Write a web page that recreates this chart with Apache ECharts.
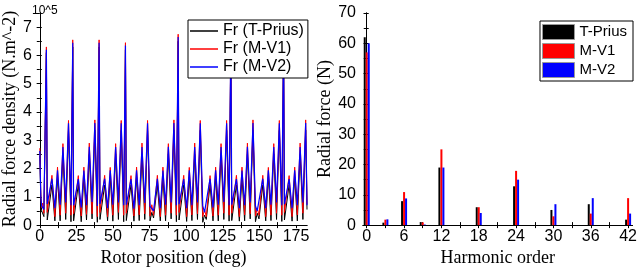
<!DOCTYPE html>
<html>
<head>
<meta charset="utf-8">
<script src="https://cdn.jsdelivr.net/npm/echarts@6/dist/echarts.min.js"></script>
<style>
html,body{margin:0;padding:0;background:#fff;}
#chart{width:640px;height:272px;}
</style>
</head>
<body>
<div id="chart"></div>
<script>
// ---------- Left chart: radial force density vs rotor position ----------
const rotorPositionDeg = [
  0, 0.7, 1.3, 2.0, 2.8, 3.9,
  4.5, 5.1, 8.3, 10.3, 12.1, 13.9, 15.8, 17.7, 19.6, 21.3,
  22.5, 23.1, 26.3, 28.3, 30.1, 31.9, 33.8, 35.7, 37.6, 39.3,
  40.5, 41.1, 44.3, 46.3, 48.1, 49.9, 51.8, 53.7, 55.6, 57.3,
  58.5, 59.1, 62.3, 64.3, 66.1, 67.9, 69.8, 71.7, 73.6, 75.3,
  76.5, 77.7, 80.3, 82.3, 84.1, 85.9, 87.8, 89.7, 91.6, 93.3,
  94.5, 95.1, 98.3, 100.3, 102.1, 103.9, 105.8, 107.7, 109.6, 111.3,
  112.5, 113.7, 116.3, 118.3, 120.1, 121.9, 123.8, 125.7, 127.6, 129.3,
  130.5, 131.1, 134.3, 136.3, 138.1, 139.9, 141.8, 143.7, 145.6, 147.3,
  148.5, 149.7, 152.3, 154.3, 156.1, 157.9, 159.8, 161.7, 163.6, 165.3,
  166.5, 167.1, 170.3, 172.3, 174.1, 175.9, 177.8, 179.7, 181.6,
  182.5
];
// values in 10^5 N/m^2
const frTPrius = [
  2.45, 0.9, 0.5, 0.56, 0.3, 0.25,
  6.1, 0.18, 1.42, 0.15, 1.7, 0.15, 2.52, 0.2, 3.35, 0.12,
  6.3, 0.15, 1.44, 0.12, 1.72, 0.18, 2.5, 0.22, 3.36, 0.1,
  6.3, 0.2, 1.42, 0.15, 1.7, 0.14, 2.52, 0.2, 3.35, 0.12,
  6.2, 0.16, 1.43, 0.14, 1.71, 0.16, 2.5, 0.2, 3.34, 0.15,
  0.45, 0.25, 1.42, 0.15, 1.7, 0.15, 2.52, 0.22, 3.36, 0.12,
  6.5, 0.18, 1.43, 0.13, 1.7, 0.16, 2.5, 0.2, 3.35, 0.1,
  0.35, 0.2, 1.42, 0.15, 1.72, 0.15, 2.52, 0.2, 3.35, 0.14,
  6.3, 0.16, 1.43, 0.14, 1.7, 0.15, 2.5, 0.22, 3.36, 0.12,
  0.42, 0.22, 1.42, 0.15, 1.71, 0.16, 2.52, 0.2, 3.35, 0.13,
  6.3, 0.18, 1.43, 0.14, 1.7, 0.15, 2.5, 0.2, 3.36,
  0.55
];
const frMV1 = [
  2.72, 1.1, 0.62, 0.78, 0.42, 0.38,
  6.3, 0.45, 1.76, 0.3, 2.05, 0.35, 2.88, 0.42, 3.7, 0.35,
  6.55, 0.4, 1.75, 0.32, 2.05, 0.38, 2.9, 0.4, 3.72, 0.3,
  6.55, 0.45, 1.76, 0.3, 2.04, 0.35, 2.88, 0.45, 3.7, 0.35,
  6.45, 0.42, 1.75, 0.32, 2.05, 0.36, 2.9, 0.4, 3.7, 0.32,
  0.72, 0.35, 1.76, 0.3, 2.05, 0.35, 2.88, 0.42, 3.72, 0.35,
  6.75, 0.45, 1.76, 0.3, 2.04, 0.36, 2.9, 0.4, 3.7, 0.3,
  0.55, 0.3, 1.75, 0.32, 2.05, 0.35, 2.88, 0.42, 3.7, 0.35,
  6.6, 0.42, 1.76, 0.3, 2.05, 0.36, 2.9, 0.4, 3.72, 0.32,
  0.6, 0.35, 1.76, 0.3, 2.04, 0.35, 2.88, 0.42, 3.7, 0.35,
  6.6, 0.45, 1.75, 0.3, 2.05, 0.36, 2.9, 0.42, 3.72,
  0.75
];
const frMV2 = [
  2.62, 1.0, 0.68, 0.74, 0.55, 0.6,
  6.2, 0.75, 1.64, 0.6, 1.94, 0.72, 2.76, 0.8, 3.6, 0.7,
  6.45, 0.7, 1.63, 0.62, 1.93, 0.7, 2.77, 0.82, 3.61, 0.68,
  6.45, 0.75, 1.64, 0.6, 1.94, 0.72, 2.76, 0.8, 3.6, 0.7,
  6.35, 0.72, 1.63, 0.58, 1.94, 0.7, 2.76, 0.78, 3.6, 0.66,
  0.62, 0.5, 1.64, 0.6, 1.93, 0.72, 2.77, 0.8, 3.61, 0.7,
  6.65, 0.74, 1.63, 0.6, 1.94, 0.7, 2.76, 0.8, 3.6, 0.68,
  0.45, 0.4, 1.64, 0.62, 1.94, 0.72, 2.76, 0.82, 3.6, 0.7,
  6.5, 0.72, 1.63, 0.6, 1.93, 0.7, 2.77, 0.8, 3.61, 0.68,
  0.5, 0.45, 1.64, 0.6, 1.94, 0.72, 2.76, 0.8, 3.6, 0.7,
  6.5, 0.74, 1.63, 0.6, 1.94, 0.7, 2.76, 0.8, 3.61,
  0.7
];
const rotorTickLabels = [0, 25, 50, 75, 100, 125, 150, 175];
const rotorMinorTicks = [12.5, 37.5, 62.5, 87.5, 112.5, 137.5, 162.5];

// ---------- Right chart: radial force harmonics ----------
const harmonicOrder = [0, 3, 6, 9, 12, 18, 24, 30, 36, 42];
const forceTPrius = [62, 0.8, 7.9, 1.0, 19, 5.9, 12.8, 5.0, 6.9, 1.8];
const forceMV1 = [57, 1.8, 10.9, 0.9, 25, 5.9, 17.9, 2.9, 3.8, 8.9];
const forceMV2 = [60, 1.9, 8.8, 0.2, 19, 4.0, 15, 6.9, 8.9, 3.8];
const harmonicTickLabels = [0, 6, 12, 18, 24, 30, 36, 42];
const harmonicMinorTicks = [3, 9, 15, 21, 27, 33, 39];
const harmonicTopTicks = [0, 3, 6, 9, 12, 15, 18, 21, 24, 27, 30, 33, 36, 39, 42];

const XMAX_L = 182.5;
const XMIN_R = -0.6, XMAX_R = 42.7;

const SANS = '"Liberation Sans", Arial, sans-serif';
const SERIF = '"Liberation Serif", "Times New Roman", serif';
const axisLine = {show: true, lineStyle: {color: '#000', width: 1}};
const tickStyle = {color: '#000', width: 1};

function pairs(xs, ys) { return xs.map((x, i) => [x, ys[i]]); }

const chart = echarts.init(document.getElementById('chart'), null, {renderer: 'canvas'});

const option = {
  animation: false,
  backgroundColor: '#fff',
  title: {
    text: '10^5', left: 27, top: 0,
    textStyle: {fontFamily: SANS, fontSize: 12, fontWeight: 'normal', color: '#000'}
  },
  grid: [
    {left: 37, top: 13, width: 270, height: 218.5},
    {left: 363, top: 13, width: 272, height: 219}
  ],
  xAxis: [
    {gridIndex: 0, type: 'value', min: 0, max: XMAX_L, position: 'bottom',
     axisLine: axisLine,
     axisTick: {show: true, inside: false, length: 3, lineStyle: tickStyle, customValues: rotorTickLabels},
     axisLabel: {color: '#000', fontFamily: SANS, fontSize: 16, margin: 3, customValues: rotorTickLabels},
     splitLine: {show: false},
     name: 'Rotor position (deg)', nameLocation: 'middle', nameGap: 21,
     nameTextStyle: {fontFamily: SERIF, fontSize: 18, color: '#000'}},
    {gridIndex: 0, type: 'value', min: 0, max: XMAX_L, position: 'top',
     axisLine: axisLine,
     axisTick: {show: true, inside: true, length: 3, lineStyle: tickStyle, customValues: rotorTickLabels.concat(rotorMinorTicks)},
     axisLabel: {show: false}, splitLine: {show: false}},
    {gridIndex: 0, type: 'value', min: 0, max: XMAX_L, position: 'bottom',
     axisLine: {show: false},
     axisTick: {show: true, inside: true, length: 3, lineStyle: tickStyle, customValues: rotorMinorTicks},
     axisLabel: {show: false}, splitLine: {show: false}},
    {gridIndex: 1, type: 'value', min: XMIN_R, max: XMAX_R, position: 'bottom',
     axisLine: axisLine,
     axisTick: {show: true, inside: false, length: 3, lineStyle: tickStyle, customValues: harmonicTickLabels},
     axisLabel: {color: '#000', fontFamily: SANS, fontSize: 16, margin: 3, customValues: harmonicTickLabels},
     splitLine: {show: false},
     name: 'Harmonic order', nameLocation: 'middle', nameGap: 21,
     nameTextStyle: {fontFamily: SERIF, fontSize: 18, color: '#000'}},
    {gridIndex: 1, type: 'value', min: XMIN_R, max: XMAX_R, position: 'top',
     axisLine: axisLine,
     axisTick: {show: true, inside: true, length: 3, lineStyle: tickStyle, customValues: harmonicTopTicks},
     axisLabel: {show: false}, splitLine: {show: false}},
    {gridIndex: 1, type: 'value', min: XMIN_R, max: XMAX_R, position: 'bottom',
     axisLine: {show: false},
     axisTick: {show: true, inside: true, length: 3, lineStyle: tickStyle, customValues: harmonicMinorTicks},
     axisLabel: {show: false}, splitLine: {show: false}}
  ],
  yAxis: [
    {gridIndex: 0, type: 'value', min: 0, max: 7.5, interval: 1, position: 'left',
     axisLine: axisLine,
     axisTick: {show: true, inside: false, length: 3, lineStyle: tickStyle},
     axisLabel: {color: '#000', fontFamily: SANS, fontSize: 16, margin: 8, showMaxLabel: false},
     splitLine: {show: false},
     name: 'Radial force density (N.m^-2)', nameLocation: 'middle', nameGap: 18,
     nameTextStyle: {fontFamily: SERIF, fontSize: 18, color: '#000'}},
    {gridIndex: 0, type: 'value', min: 0, max: 7.5, interval: 0.5, position: 'right',
     axisLine: axisLine,
     axisTick: {show: true, inside: true, length: 3, lineStyle: tickStyle},
     axisLabel: {show: false}, splitLine: {show: false}},
    {gridIndex: 0, type: 'value', min: 0, max: 7.5, interval: 0.5, position: 'left',
     axisLine: {show: false},
     axisTick: {show: true, inside: true, length: 2, lineStyle: tickStyle},
     axisLabel: {show: false}, splitLine: {show: false}},
    {gridIndex: 1, type: 'value', min: 0, max: 70, interval: 10, position: 'left',
     axisLine: axisLine,
     axisTick: {show: true, inside: false, length: 3, lineStyle: tickStyle},
     axisLabel: {color: '#000', fontFamily: SANS, fontSize: 16, margin: 7},
     splitLine: {show: false},
     name: 'Radial force (N)', nameLocation: 'middle', nameGap: 26,
     nameTextStyle: {fontFamily: SERIF, fontSize: 18, color: '#000'}},
    {gridIndex: 1, type: 'value', min: 0, max: 70, interval: 5, position: 'right',
     axisLine: axisLine,
     axisTick: {show: true, inside: true, length: 3, lineStyle: tickStyle},
     axisLabel: {show: false}, splitLine: {show: false}},
    {gridIndex: 1, type: 'value', min: 0, max: 70, interval: 5, position: 'left',
     axisLine: {show: false},
     axisTick: {show: true, inside: true, length: 2, lineStyle: tickStyle},
     axisLabel: {show: false}, splitLine: {show: false}}
  ],
  legend: [
    {orient: 'vertical', left: 188, top: 20, data: ['Fr (T-Prius)', 'Fr (M-V1)', 'Fr (M-V2)'],
     icon: 'rect', itemWidth: 28, itemHeight: 1.5, itemGap: 2, padding: [3, 4, 3, 2],
     borderColor: '#000', borderWidth: 1, borderRadius: 0, backgroundColor: '#fff',
     textStyle: {fontFamily: SANS, fontSize: 16, color: '#000', lineHeight: 16}},
    {orient: 'vertical', right: 7, top: 21, data: ['T-Prius', 'M-V1', 'M-V2'], icon: 'rect',
     itemWidth: 32, itemHeight: 15, itemGap: 3, padding: [3, 6, 3, 2],
     borderColor: '#000', borderWidth: 1, borderRadius: 0, backgroundColor: '#fff',
     itemStyle: {borderColor: '#999', borderWidth: 1},
     textStyle: {fontFamily: SANS, fontSize: 15, color: '#000'}}
  ],
  series: [
    {name: 'Fr (T-Prius)', type: 'line', xAxisIndex: 0, yAxisIndex: 0, symbol: 'none',
     data: pairs(rotorPositionDeg, frTPrius), lineStyle: {color: '#000', width: 1}, itemStyle: {color: '#000'}},
    {name: 'Fr (M-V1)', type: 'line', xAxisIndex: 0, yAxisIndex: 0, symbol: 'none',
     data: pairs(rotorPositionDeg, frMV1), lineStyle: {color: '#ff0000', width: 1}, itemStyle: {color: '#ff0000'}},
    {name: 'Fr (M-V2)', type: 'line', xAxisIndex: 0, yAxisIndex: 0, symbol: 'none',
     data: pairs(rotorPositionDeg, frMV2), lineStyle: {color: '#0000ff', width: 1.2}, itemStyle: {color: '#0000ff'}},
    {name: 'T-Prius', type: 'bar', xAxisIndex: 3, yAxisIndex: 3, barWidth: 2, barGap: '0%',
     data: pairs(harmonicOrder, forceTPrius), itemStyle: {color: '#000'}},
    {name: 'M-V1', type: 'bar', xAxisIndex: 3, yAxisIndex: 3, barWidth: 2, barGap: '0%',
     data: pairs(harmonicOrder, forceMV1), itemStyle: {color: '#ff0000'}},
    {name: 'M-V2', type: 'bar', xAxisIndex: 3, yAxisIndex: 3, barWidth: 2, barGap: '0%',
     data: pairs(harmonicOrder, forceMV2), itemStyle: {color: '#0000ff'}}
  ]
};
chart.setOption(option);
</script>
</body>
</html>
